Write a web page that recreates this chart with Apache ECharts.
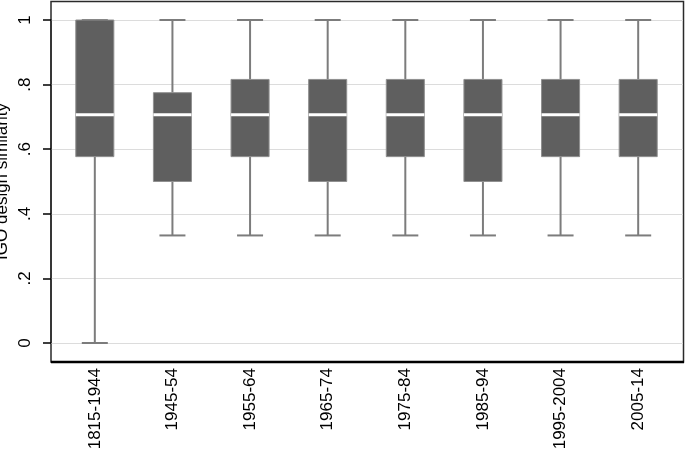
<!DOCTYPE html>
<html>
<head>
<meta charset="utf-8">
<script src="https://cdn.jsdelivr.net/npm/echarts@6/dist/echarts.min.js"></script>
<style>
  html, body { margin: 0; padding: 0; background: #fff; }
  #chart { width: 685px; height: 451px; }
</style>
</head>
<body>
<div id="chart"></div>
<script>
// periods on the x axis
var periods = ['1815-1944', '1945-54', '1955-64', '1965-74', '1975-84', '1985-94', '1995-2004', '2005-14'];
// box statistics per period
var lowerWhisker = [0, 0.333, 0.333, 0.333, 0.333, 0.333, 0.333, 0.333];
var lowerQuartile = [0.577, 0.5, 0.577, 0.5, 0.577, 0.5, 0.577, 0.577];
var medians = [0.707, 0.707, 0.707, 0.707, 0.707, 0.707, 0.707, 0.707];
var upperQuartile = [1, 0.775, 0.816, 0.816, 0.816, 0.816, 0.816, 0.816];
var upperWhisker = [1, 1, 1, 1, 1, 1, 1, 1];
var yTicks = [0, 0.2, 0.4, 0.6, 0.8, 1];

var boxData = periods.map(function (p, i) {
  return [i, lowerWhisker[i], lowerQuartile[i], medians[i], upperQuartile[i], upperWhisker[i]];
});

var font = 'Liberation Sans, Arial, sans-serif';
var chart = echarts.init(document.getElementById('chart'));

function renderBox(params, api) {
  var i = api.value(0);
  var pMin = api.coord([i, api.value(1)]);
  var pQ1 = api.coord([i, api.value(2)]);
  var pMed = api.coord([i, api.value(3)]);
  var pQ3 = api.coord([i, api.value(4)]);
  var pMax = api.coord([i, api.value(5)]);
  var band = api.size([1, 0])[0];
  var boxW = band * 0.49;
  var capW = band * 0.335;
  var cx = pMed[0];
  var whisk = { stroke: '#7c7c7c', lineWidth: 2 };
  return {
    type: 'group',
    children: [
      { type: 'line', shape: { x1: cx, y1: pMax[1], x2: cx, y2: pQ3[1] }, style: whisk },
      { type: 'line', shape: { x1: cx, y1: pMin[1], x2: cx, y2: pQ1[1] }, style: whisk },
      { type: 'line', shape: { x1: cx - capW / 2, y1: pMax[1], x2: cx + capW / 2, y2: pMax[1] }, style: whisk },
      { type: 'line', shape: { x1: cx - capW / 2, y1: pMin[1], x2: cx + capW / 2, y2: pMin[1] }, style: whisk },
      {
        type: 'rect',
        shape: { x: cx - boxW / 2, y: pQ3[1], width: boxW, height: pQ1[1] - pQ3[1] },
        style: { fill: '#5f5f5f', stroke: '#909090', lineWidth: 1 }
      },
      {
        type: 'line',
        shape: { x1: cx - boxW / 2, y1: pMed[1], x2: cx + boxW / 2, y2: pMed[1] },
        style: { stroke: '#ffffff', lineWidth: 3 }
      }
    ]
  };
}

var option = {
  animation: false,
  grid: [
    { left: 51, right: 2, top: 20, bottom: 108, outerBoundsMode: 'none', containLabel: false },
    { left: 56, right: 8, top: 20, bottom: 108, outerBoundsMode: 'none', containLabel: false }
  ],
  xAxis: [
    { type: 'value', gridIndex: 0, show: false, min: 0, max: 1 },
    {
      type: 'category',
      gridIndex: 1,
      data: periods,
      axisLine: { show: false },
      axisTick: { show: false },
      axisLabel: { rotate: 90, margin: 25, color: '#000', fontSize: 17, fontFamily: font }
    }
  ],
  yAxis: [
    {
      type: 'value',
      gridIndex: 0,
      min: yTicks[0],
      max: yTicks[yTicks.length - 1],
      interval: 0.2,
      name: 'IGO design similarity',
      nameLocation: 'middle',
      nameGap: 40,
      nameRotate: 90,
      nameMoveOverlap: false,
      nameTextStyle: { color: '#000', fontSize: 17, fontFamily: font },
      axisLine: { show: true, lineStyle: { color: '#2a2a2a', width: 1.5 } },
      axisTick: { show: true, inside: false, length: 8, lineStyle: { color: '#000', width: 1.5 } },
      axisLabel: {
        rotate: 90, margin: 17, color: '#000', fontSize: 17, fontFamily: font,
        formatter: function (v) {
          if (v === 0) return '0';
          if (v === 1) return '1';
          return '.' + Math.round(v * 10);
        }
      },
      splitLine: { show: true, lineStyle: { color: '#dcdcdc', width: 1 } }
    },
    { type: 'value', gridIndex: 1, min: 0, max: 1, show: false }
  ],
  graphic: [
    { type: 'rect', shape: { x: 51, y: 1.5, width: 632.5, height: 360.5 }, style: { fill: 'none', stroke: '#2a2a2a', lineWidth: 1.5 } },
    { type: 'line', shape: { x1: 51, y1: 362, x2: 684, y2: 362 }, style: { stroke: '#000', lineWidth: 2.5 } }
  ],
  series: [
    { type: 'custom', xAxisIndex: 1, yAxisIndex: 1, renderItem: renderBox, data: boxData }
  ]
};

chart.setOption(option);
</script>
</body>
</html>
